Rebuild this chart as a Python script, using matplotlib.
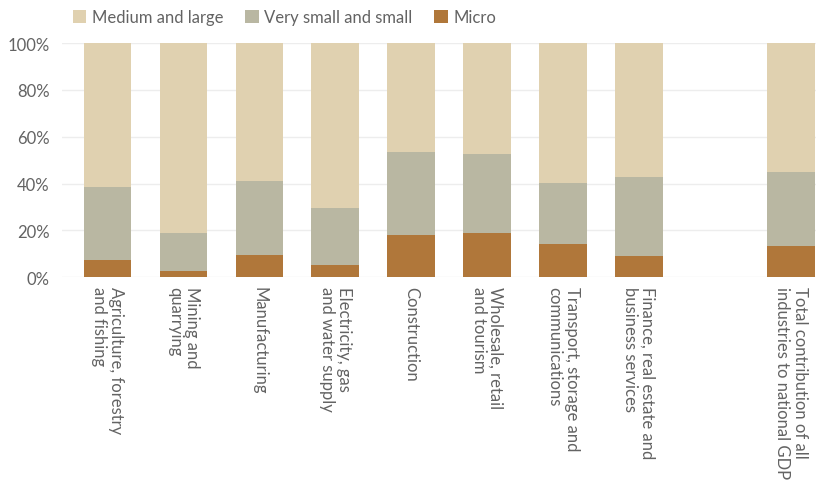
import numpy as np
import matplotlib
matplotlib.use("Agg")
import matplotlib.pyplot as plt

plt.rcParams["font.family"] = ["Lato", "DejaVu Sans"]

# Share of sector GVA by firm size
categories = [
    "Agriculture, forestry\nand fishing",
    "Mining and\nquarrying",
    "Manufacturing",
    "Electricity, gas\nand water supply",
    "Construction",
    "Wholesale, retail\nand tourism",
    "Transport, storage and\ncommunications",
    "Finance, real estate and\nbusiness services",
    "",
    "Total contribution of all\nindustries to national GDP",
]
# slot index 8 is an empty gap in the original
micro = [7.5, 2.7, 9.6, 5.1, 18.0, 19.0, 14.1, 9.0, np.nan, 13.2]
small_top = [38.5, 19.0, 41.0, 29.7, 53.5, 52.6, 40.2, 42.8, np.nan, 45.1]

series_names = ["Medium and large", "Very small and small", "Micro"]
colors = {"Medium and large": "#E0D1B0", "Very small and small": "#B9B7A2", "Micro": "#B0773A"}
text_col = "#636363"

micro = np.array(micro)
small = np.array(small_top) - micro
medium = 100 - np.array(small_top)

fig = plt.figure(figsize=(8.16, 4.89), dpi=100)
ax = fig.add_axes([0.076, 0.4309, 0.924, 0.479])

x = np.arange(len(categories))
w = 0.63
b1 = ax.bar(x, micro, w, color=colors["Micro"], label="Micro", zorder=2)
b2 = ax.bar(x, small, w, bottom=micro, color=colors["Very small and small"],
            label="Very small and small", zorder=2)
b3 = ax.bar(x, medium, w, bottom=micro + small, color=colors["Medium and large"],
            label="Medium and large", zorder=2)

ax.set_xlim(-0.6, 9.33)
ax.set_ylim(0, 100)
ax.set_yticks([0, 20, 40, 60, 80, 100])
ax.set_yticklabels([f"{v}%" for v in [0, 20, 40, 60, 80, 100]])
ax.grid(axis="y", color="#EDEDED", linewidth=1, zorder=0)
for s in ax.spines.values():
    s.set_visible(False)

ax.set_xticks(x)
ax.set_xticklabels(categories, rotation=270, ha="center", va="top",
                   multialignment="left", linespacing=1.1)
ax.tick_params(axis="both", length=0, labelsize=12, labelcolor=text_col)
ax.tick_params(axis="y", pad=9)
ax.tick_params(axis="x", pad=6)

handles = [b3, b2, b1]
leg = fig.legend(handles, series_names, loc="upper left", bbox_to_anchor=(0.071, 1.01),
                 ncol=3, frameon=False, fontsize=12, handlelength=0.8, handleheight=0.8,
                 handletextpad=0.35, columnspacing=1.3, labelcolor=text_col)

fig.savefig("out.png", dpi=100)
